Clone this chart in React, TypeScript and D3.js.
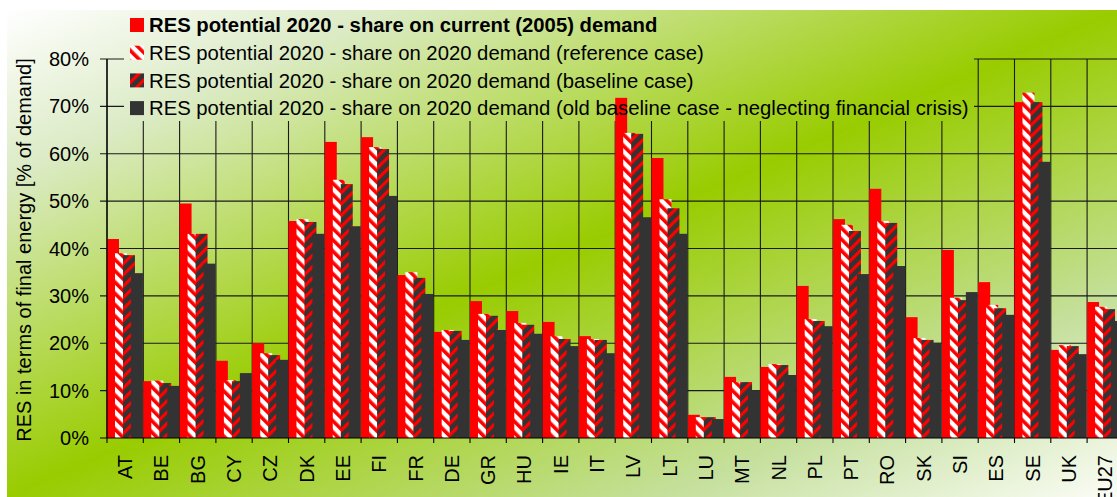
import React from "react";
import * as d3 from "d3";

const countries = ["AT", "BE", "BG", "CY", "CZ", "DK", "EE", "FI", "FR", "DE", "GR", "HU", "IE", "IT", "LV", "LT", "LU", "MT", "NL", "PL", "PT", "RO", "SK", "SI", "ES", "SE", "UK", "EU27"];

const currentDemand = [42.0, 12.0, 49.5, 16.3, 20.0, 45.8, 62.5, 63.5, 34.4, 22.4, 28.9, 26.8, 24.5, 21.5, 71.8, 59.1, 4.9, 12.9, 15.0, 32.1, 46.2, 52.6, 25.5, 39.7, 32.9, 70.9, 18.6, 28.7];
const referenceCase = [39.0, 12.1, 43.1, 12.2, 17.9, 46.2, 54.5, 61.4, 35.0, 22.8, 26.2, 24.3, 21.5, 20.9, 64.4, 50.4, 4.4, 11.8, 15.6, 25.1, 45.0, 45.8, 21.1, 29.6, 28.1, 72.9, 19.6, 27.7];
const baselineCase = [38.6, 11.6, 43.1, 12.0, 17.5, 45.6, 53.6, 61.0, 33.8, 22.6, 25.8, 23.9, 20.9, 20.7, 64.2, 48.5, 4.4, 11.8, 15.4, 24.7, 43.7, 45.4, 20.7, 29.1, 27.4, 70.9, 19.4, 27.2];
const oldBaselineCase = [34.8, 11.0, 36.8, 13.7, 16.5, 43.1, 44.7, 51.1, 30.4, 20.7, 22.8, 22.0, 19.4, 17.9, 46.6, 43.1, 4.0, 10.1, 13.3, 23.6, 34.6, 36.3, 20.1, 30.8, 26.0, 58.3, 17.7, 24.7];

const yTicks = [0, 10, 20, 30, 40, 50, 60, 70, 80];

const seriesNames = [
  "RES potential 2020 - share on current (2005) demand",
  "RES potential 2020 - share on 2020 demand (reference case)",
  "RES potential 2020 - share on 2020 demand (baseline case)",
  "RES potential 2020 - share on 2020 demand (old baseline case - neglecting financial crisis)",
];

const W = 1117;
const H = 497;
const FONT = "'Liberation Sans', Arial, sans-serif";

const App = () => {
  const margin = { left: 107, top: 59, bottom: 59 };
  const bandW = 36.3;
  const x = d3.scaleBand().domain(countries).range([margin.left, margin.left + bandW * countries.length]).padding(0);
  const y = d3.scaleLinear().domain([0, 80]).range([H - margin.bottom, margin.top]);

  const series = [
    { values: currentDemand, fill: "#ff0000" },
    { values: referenceCase, fill: "url(#stripeWhite)" },
    { values: baselineCase, fill: "url(#stripeDark)" },
    { values: oldBaselineCase, fill: "#333333" },
  ];
  const barW = x.bandwidth() * 0.33;
  const step = x.bandwidth() * 0.22;

  const legend = { x: 124, y: 10, w: 850, h: 111, row: 27.7 };
  const legendSwatches = ["#ff0000", "url(#stripeWhite)", "url(#stripeDark)", "#333333"];

  return (
    <>
      <style>{"body{margin:0}"}</style>
      <svg width={W} height={H} style={{ display: "block", fontFamily: FONT }}>
        <defs>
          <linearGradient id="bg" gradientUnits="userSpaceOnUse" x1={383} y1={-155} x2={741} y2={662}>
            <stop offset="0" stopColor="#ffffff" />
            <stop offset="0.17" stopColor="#dcebc6" />
            <stop offset="0.5" stopColor="#99cc00" />
            <stop offset="0.8" stopColor="#c6e09e" />
            <stop offset="1" stopColor="#fbfdf7" />
          </linearGradient>
          <pattern id="stripeWhite" width={8} height={8} patternUnits="userSpaceOnUse" patternTransform="rotate(-45)">
            <rect width={8} height={8} fill="#ffffff" />
            <rect width={3.6} height={8} fill="#ff0000" />
          </pattern>
          <pattern id="stripeDark" width={8} height={8} patternUnits="userSpaceOnUse" patternTransform="rotate(45)">
            <rect width={8} height={8} fill="#333333" />
            <rect width={3.2} height={8} fill="#ff0000" />
          </pattern>
        </defs>

        <rect x={7} y={10} width={W - 7} height={H - 10} fill="url(#bg)" />

        {/* grid */}
        {yTicks.filter(t => t > 0).map(t => (
          <line key={"h" + t} x1={margin.left - 7} x2={W} y1={y(t)} y2={y(t)} stroke="#1a1a1a" strokeWidth={1.1} />
        ))}
        {countries.map(c => (
          <line key={"v" + c} x1={x(c)} x2={x(c)} y1={y(0)} y2={y(80)} stroke="#1a1a1a" strokeWidth={1.1} />
        ))}

        {/* legend background hides the grid */}
        <rect x={legend.x} y={legend.y} width={legend.w} height={legend.h} fill="url(#bg)" />

        {/* bars */}
        {series.map((s, si) => (
          <g key={si}>
            {countries.map((c, i) => (
              <rect
                key={c}
                x={x(c) + si * step}
                y={y(s.values[i])}
                width={barW}
                height={y(0) - y(s.values[i])}
                fill={s.fill}
              />
            ))}
          </g>
        ))}

        {/* axes */}
        <line x1={margin.left} x2={margin.left} y1={y(80)} y2={y(0)} stroke="#000" strokeWidth={1.2} />
        <line x1={margin.left - 7} x2={W} y1={y(0)} y2={y(0)} stroke="#000" strokeWidth={1.2} />
        {countries.map(c => (
          <line key={"t" + c} x1={x(c)} x2={x(c)} y1={y(0)} y2={y(0) + 5} stroke="#000" strokeWidth={1.1} />
        ))}
        {yTicks.map(t => (
          <text key={"yl" + t} x={89} y={y(t)} dy="0.35em" textAnchor="end" fontSize={20} fill="#000">
            {t + "%"}
          </text>
        ))}
        {countries.map(c => (
          <text
            key={"xl" + c}
            transform={`translate(${x(c) + x.bandwidth() / 2},455) rotate(-90)`}
            dy="0.35em"
            textAnchor="end"
            fontSize={20}
            fill="#000"
          >
            {c}
          </text>
        ))}
        <text transform="translate(31,250) rotate(-90)" textAnchor="middle" fontSize={20} fill="#000">
          RES in terms of final energy [% of demand]
        </text>

        {/* legend */}
        {seriesNames.map((name, i) => (
          <g key={name} transform={`translate(${legend.x + 6},${25 + i * legend.row})`}>
            <rect x={0} y={-7} width={14} height={14} fill={legendSwatches[i]} />
            <text x={19} dy="0.35em" fontSize={20.3} fontWeight={i === 0 ? "bold" : "normal"} fill="#000">
              {name}
            </text>
          </g>
        ))}
      </svg>
    </>
  );
};

export default App;
